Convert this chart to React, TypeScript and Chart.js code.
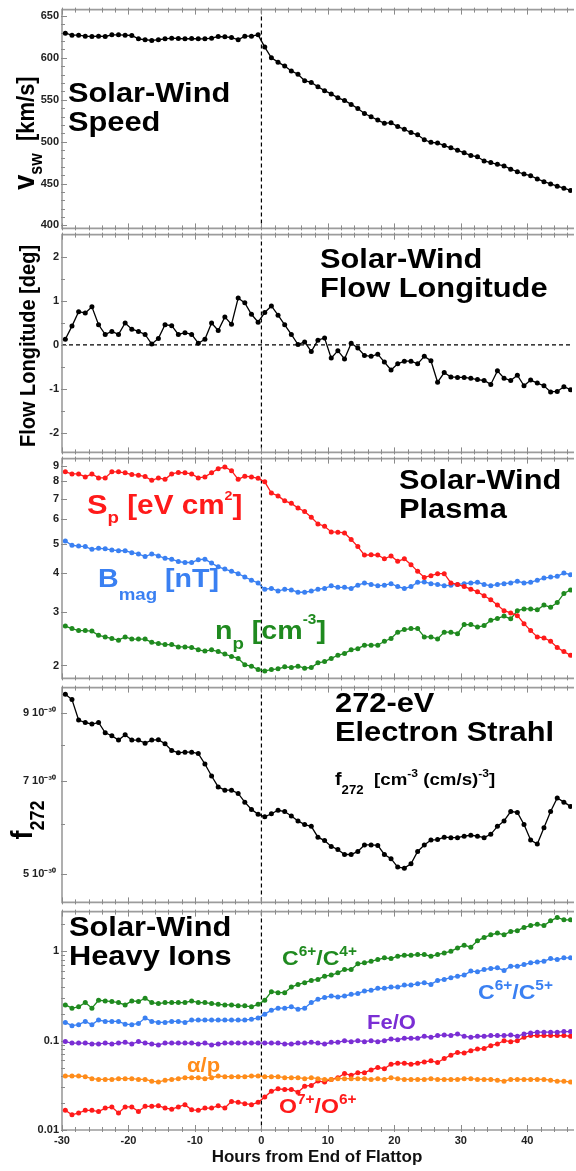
import React, { useEffect, useRef } from "react";
import { Chart, registerables } from "chart.js";
Chart.register(...registerables);

const FONT = "'Liberation Sans', Arial, Helvetica, sans-serif";
Chart.defaults.font.family = FONT;

// ---------- DATA ----------
const hours = [
  -29.5, -28.5, -27.5, -26.5, -25.5, -24.5, -23.5, -22.5, -21.5, -20.5,
  -19.5, -18.5, -17.5, -16.5, -15.5, -14.5, -13.5, -12.5, -11.5, -10.5,
  -9.5, -8.5, -7.5, -6.5, -5.5, -4.5, -3.5, -2.5, -1.5, -0.5,
  0.5, 1.5, 2.5, 3.5, 4.5, 5.5, 6.5, 7.5, 8.5, 9.5,
  10.5, 11.5, 12.5, 13.5, 14.5, 15.5, 16.5, 17.5, 18.5, 19.5,
  20.5, 21.5, 22.5, 23.5, 24.5, 25.5, 26.5, 27.5, 28.5, 29.5,
  30.5, 31.5, 32.5, 33.5, 34.5, 35.5, 36.5, 37.5, 38.5, 39.5,
  40.5, 41.5, 42.5, 43.5, 44.5, 45.5, 46.5,
];

const vsw = [
  629.4, 627.1, 627.1, 625.9, 625.5, 625.9, 625.5, 627.5, 627.5, 627.1,
  626.7, 622.7, 621.6, 620.8, 621.6, 622.7, 623.5, 623.1, 622.7, 623.1,
  622.7, 622.7, 623.5, 625.5, 625.1, 624.3, 621.6, 625.9, 625.9, 627.5,
  612.9, 600, 594.9, 590.2, 584.4, 580.5, 572.7, 570.7, 565.6, 560.9,
  557, 552.3, 549.2, 544.5, 539.5, 533.6, 529.7, 525.8, 521.9, 522.7,
  518, 514.8, 510.9, 508.2, 502.3, 499.2, 498.4, 495.3, 492.6, 489.8,
  486.7, 483.6, 482, 477, 475, 473, 471.1, 467.2, 464.1, 461.3,
  459.4, 455.5, 452.3, 449.6, 446.9, 444.5, 441.8,
];

const flowLon = [
  0.13, 0.43, 0.76, 0.73, 0.87, 0.46, 0.24, 0.31, 0.24, 0.5,
  0.36, 0.31, 0.24, 0.02, 0.15, 0.46, 0.44, 0.24, 0.28, 0.24,
  0.04, 0.13, 0.5, 0.33, 0.64, 0.47, 1.07, 0.96, 0.7, 0.52,
  0.74, 0.89, 0.68, 0.46, 0.24, 0.01, 0.07, -0.15, 0.11, 0.16,
  -0.3, -0.13, -0.32, 0.04, -0.07, -0.24, -0.26, -0.21, -0.39, -0.57,
  -0.43, -0.37, -0.37, -0.43, -0.26, -0.36, -0.85, -0.63, -0.73, -0.74,
  -0.74, -0.76, -0.79, -0.81, -0.9, -0.59, -0.76, -0.81, -0.69, -0.93,
  -0.8, -0.87, -0.93, -1.07, -1.06, -0.95, -1.02,
];

const spEntropy = [
  8.58, 8.45, 8.45, 8.26, 8.45, 8.2, 8.2, 8.58, 8.58, 8.52,
  8.41, 8.37, 8.28, 8.05, 8.2, 8.11, 8.45, 8.54, 8.52, 8.45,
  8.2, 8.26, 8.52, 8.79, 8.9, 8.66, 8.11, 8.3, 8.26, 8.17,
  7.96, 7.32, 7.16, 6.9, 6.77, 6.54, 6.37, 6.1, 5.8, 5.7,
  5.46, 5.45, 5.42, 5.16, 4.89, 4.59, 4.6, 4.59, 4.46, 4.56,
  4.38, 4.46, 4.27, 4.06, 3.88, 3.93, 3.99, 3.99, 3.72, 3.68,
  3.62, 3.55, 3.48, 3.38, 3.28, 3.15, 3.02, 2.97, 2.91, 2.74,
  2.6, 2.48, 2.46, 2.4, 2.29, 2.22, 2.16,
];

const bmag = [
  5.1, 4.94, 4.91, 4.89, 4.79, 4.83, 4.81, 4.77, 4.74, 4.74,
  4.67, 4.63, 4.54, 4.63, 4.56, 4.48, 4.45, 4.37, 4.34, 4.34,
  4.43, 4.45, 4.32, 4.2, 4.13, 4.06, 3.99, 3.89, 3.8, 3.72,
  3.55, 3.57, 3.5, 3.55, 3.53, 3.47, 3.47, 3.5, 3.55, 3.57,
  3.64, 3.6, 3.6, 3.57, 3.66, 3.72, 3.68, 3.64, 3.66, 3.7,
  3.62, 3.57, 3.62, 3.74, 3.75, 3.7, 3.68, 3.64, 3.66, 3.68,
  3.7, 3.72, 3.74, 3.68, 3.64, 3.68, 3.7, 3.72, 3.77, 3.72,
  3.74, 3.8, 3.86, 3.89, 3.91, 4.01, 3.96,
];

const np = [
  2.69, 2.64, 2.6, 2.6, 2.59, 2.51, 2.48, 2.45, 2.42, 2.48,
  2.44, 2.44, 2.44, 2.38, 2.36, 2.34, 2.34, 2.3, 2.3, 2.29,
  2.25, 2.23, 2.25, 2.22, 2.18, 2.14, 2.11, 2.01, 1.99, 1.94,
  1.92, 1.94, 1.95, 1.98, 1.97, 1.99, 1.96, 1.97, 2.04, 2.06,
  2.11, 2.16, 2.19, 2.25, 2.27, 2.33, 2.33, 2.33, 2.4, 2.45,
  2.57, 2.62, 2.64, 2.64, 2.48, 2.48, 2.44, 2.57, 2.57, 2.54,
  2.72, 2.72, 2.67, 2.7, 2.81, 2.85, 2.9, 2.84, 3.02, 3.06,
  3.06, 3.04, 3.15, 3.1, 3.21, 3.44, 3.53,
];

// f272 in units of 1e-30
const f272 = [
  9.62, 9.44, 8.76, 8.68, 8.63, 8.68, 8.36, 8.27, 8.14, 8.3,
  8.14, 8.14, 8.05, 8.14, 8.15, 8.03, 7.84, 7.77, 7.79, 7.79,
  7.75, 7.46, 7.14, 6.86, 6.78, 6.78, 6.7, 6.49, 6.32, 6.21,
  6.15, 6.22, 6.3, 6.27, 6.17, 6.06, 5.98, 5.94, 5.71, 5.64,
  5.52, 5.46, 5.36, 5.36, 5.42, 5.55, 5.55, 5.54, 5.36, 5.28,
  5.12, 5.1, 5.18, 5.42, 5.55, 5.65, 5.66, 5.71, 5.7, 5.7,
  5.73, 5.75, 5.73, 5.7, 5.77, 5.94, 6.06, 6.27, 6.25, 5.98,
  5.65, 5.57, 5.91, 6.27, 6.59, 6.49, 6.39,
];

const c6c4 = [
  0.251, 0.231, 0.239, 0.267, 0.231, 0.283, 0.278, 0.274, 0.267, 0.251,
  0.278, 0.274, 0.298, 0.267, 0.26, 0.267, 0.267, 0.267, 0.267, 0.278,
  0.267, 0.267, 0.26, 0.255, 0.251, 0.251, 0.245, 0.245, 0.239, 0.255,
  0.283, 0.353, 0.344, 0.344, 0.398, 0.426, 0.445, 0.472, 0.484, 0.527,
  0.541, 0.574, 0.625, 0.625, 0.723, 0.742, 0.774, 0.808, 0.844, 0.829,
  0.88, 0.903, 0.903, 0.918, 0.918, 0.88, 0.918, 0.958, 1.0, 1.09,
  1.17, 1.11, 1.31, 1.43, 1.53, 1.6, 1.53, 1.67, 1.7, 1.85,
  1.94, 2.01, 1.94, 2.19, 2.39, 2.25, 2.25,
];

const c6c5 = [
  0.16, 0.147, 0.151, 0.164, 0.151, 0.17, 0.164, 0.164, 0.164, 0.153,
  0.151, 0.156, 0.179, 0.164, 0.16, 0.16, 0.164, 0.164, 0.16, 0.17,
  0.17, 0.17, 0.17, 0.17, 0.17, 0.17, 0.17, 0.17, 0.174, 0.179,
  0.198, 0.219, 0.231, 0.231, 0.239, 0.225, 0.231, 0.267, 0.29, 0.303,
  0.316, 0.308, 0.316, 0.33, 0.336, 0.36, 0.366, 0.385, 0.385, 0.398,
  0.398, 0.419, 0.419, 0.434, 0.445, 0.426, 0.472, 0.484, 0.506, 0.527,
  0.541, 0.6, 0.589, 0.625, 0.642, 0.653, 0.61, 0.681, 0.681, 0.711,
  0.742, 0.761, 0.774, 0.829, 0.808, 0.844, 0.844,
];

const feO = [
  0.0975, 0.094, 0.094, 0.094, 0.092, 0.092, 0.094, 0.092, 0.094, 0.0957,
  0.092, 0.0975, 0.094, 0.092, 0.0895, 0.094, 0.094, 0.094, 0.094, 0.094,
  0.092, 0.094, 0.0895, 0.092, 0.094, 0.094, 0.094, 0.094, 0.094, 0.094,
  0.094, 0.094, 0.094, 0.092, 0.0917, 0.094, 0.094, 0.0957, 0.094, 0.0917,
  0.0957, 0.0957, 0.1, 0.0974, 0.1, 0.0974, 0.1, 0.0974, 0.1, 0.1044,
  0.1026, 0.1063, 0.1063, 0.1063, 0.112, 0.109, 0.1139, 0.1159, 0.1139, 0.119,
  0.112, 0.109, 0.112, 0.112, 0.1139, 0.1139, 0.1139, 0.1159, 0.112, 0.119,
  0.122, 0.1243, 0.1243, 0.1243, 0.1243, 0.1264, 0.1264,
];

const alphaP = [
  0.0402, 0.0402, 0.0402, 0.0395, 0.0375, 0.0368, 0.0368, 0.0368, 0.0375, 0.0375,
  0.0375, 0.0368, 0.0368, 0.0352, 0.0344, 0.0361, 0.0368, 0.0375, 0.0385, 0.0385,
  0.0385, 0.0375, 0.0385, 0.0402, 0.0395, 0.0395, 0.0395, 0.0395, 0.0402, 0.0402,
  0.0395, 0.0395, 0.0395, 0.0385, 0.0385, 0.0385, 0.0375, 0.0385, 0.0375, 0.0368,
  0.0368, 0.0375, 0.0375, 0.0375, 0.0375, 0.0375, 0.0368, 0.0375, 0.0368, 0.0385,
  0.0375, 0.0368, 0.0368, 0.0368, 0.0368, 0.0375, 0.0368, 0.0368, 0.0368, 0.0368,
  0.0375, 0.0375, 0.0368, 0.0368, 0.0368, 0.0361, 0.0352, 0.0368, 0.0368, 0.0368,
  0.0368, 0.0368, 0.0368, 0.0361, 0.0352, 0.0352, 0.0344,
];

const o7o6 = [
  0.0166, 0.0148, 0.0155, 0.0166, 0.0166, 0.0161, 0.0176, 0.0181, 0.0155, 0.0181,
  0.0181, 0.0161, 0.0184, 0.0184, 0.0187, 0.0176, 0.0171, 0.0181, 0.0192, 0.0168,
  0.0166, 0.0176, 0.0176, 0.0187, 0.0176, 0.0209, 0.0204, 0.0197, 0.0192, 0.0204,
  0.0234, 0.0272, 0.0289, 0.0284, 0.0284, 0.0265, 0.0309, 0.0315, 0.0353, 0.0344,
  0.0368, 0.0385, 0.043, 0.0409, 0.0438, 0.0438, 0.047, 0.05, 0.0486, 0.0544,
  0.0559, 0.0559, 0.0544, 0.0559, 0.0578, 0.0594, 0.0569, 0.0631, 0.0688, 0.0738,
  0.0725, 0.0771, 0.0805, 0.0819, 0.0878, 0.0917, 0.1, 0.0974, 0.1, 0.109,
  0.1139, 0.1139, 0.1139, 0.1139, 0.1139, 0.1139, 0.112,
];

const xTicks = [-30, -20, -10, 0, 10, 20, 30, 40];
const vswTicks = [400, 450, 500, 550, 600, 650];
const flowTicks = [-2, -1, 0, 1, 2];
const plasmaTicks = [2, 3, 4, 5, 6, 7, 8, 9];
const strahlTicks = [5, 7, 9];
const ionTicks = [0.01, 0.1, 1];

// ---------- STYLE ----------
const RED = "#ff1a1a";
const BLUE = "#3a80f2";
const GREEN = "#1f8a1f";
const PURPLE = "#7a2ed4";
const ORANGE = "#ff8c1a";
const BLACK = "#000000";

type Part = { t: string; s: number; dy?: number };
type Lab = { x: number; y: number; color: string; parts: Part[]; rotate?: boolean; center?: boolean; sx?: number };

const W = 576;
const XMIN = -30;
const XMAX = 46.72;

function range(a: number, b: number, st: number) {
  const out: number[] = [];
  for (let v = a; v <= b + 1e-9; v += st) out.push(Math.round(v * 1000) / 1000);
  return out;
}

function logMinors(lo: number, hi: number) {
  const out: number[] = [];
  for (let d = lo; d <= hi; d *= 10) for (let k = 1; k < 10; k++) out.push(+(d * k).toPrecision(3));
  return out;
}

const title2 = (x: number, y1: number, a: string, b: string): Lab[] => [
  { x, y: y1, color: BLACK, parts: [{ t: a, s: 28 }] },
  { x, y: y1 + 29, color: BLACK, parts: [{ t: b, s: 28 }] },
];

const panels: any[] = [
  {
    top: 8, bottom: 230, canvasTop: 0, log: false, min: 396.5, max: 657.6, ticks: vswTicks,
    minor: range(400, 650, 10), fmt: (v: number) => String(v), zeroY: false,
    series: [{ values: vsw, color: BLACK }],
    labels: [
      ...title2(68, 102, "Solar-Wind", "Speed"),
      { x: 34, y: 133, color: BLACK, rotate: true, center: true, parts: [{ t: "v", s: 27 }, { t: "sw", s: 16, dy: 7 }, { t: "  [km/s]", s: 22 }] },
    ],
  },
  {
    top: 233, bottom: 454, canvasTop: 225, log: false, min: -2.45, max: 2.517, ticks: flowTicks,
    minor: range(-2, 2, 0.5), fmt: (v: number) => String(v), zeroY: true,
    series: [{ values: flowLon, color: BLACK }],
    labels: [
      ...title2(320, 268, "Solar-Wind", "Flow Longitude"),
      { x: 35, y: 346, color: BLACK, rotate: true, center: true, parts: [{ t: "Flow Longitude [deg]", s: 20 }] },
    ],
  },
  {
    top: 457, bottom: 680, canvasTop: 449, log: true, min: 1.815, max: 9.48, ticks: plasmaTicks,
    minor: plasmaTicks, fmt: (v: number) => String(v), zeroY: false,
    series: [
      { values: spEntropy, color: RED },
      { values: bmag, color: BLUE },
      { values: np, color: GREEN },
    ],
    labels: [
      ...title2(399, 489, "Solar-Wind", "Plasma"),
      { x: 87, y: 514, color: RED, parts: [{ t: "S", s: 28 }, { t: "p", s: 17, dy: 9 }, { t: " [eV cm", s: 27 }, { t: "2", s: 13, dy: -14 }, { t: "]", s: 27 }] },
      { x: 98, y: 587, color: BLUE, parts: [{ t: "B", s: 26 }, { t: "mag", s: 17, dy: 13 }, { t: " [nT]", s: 26 }] },
      { x: 215, y: 639, color: GREEN, parts: [{ t: "n", s: 26 }, { t: "p", s: 17, dy: 10 }, { t: " [cm", s: 26 }, { t: "-3", s: 14, dy: -15 }, { t: "]", s: 26 }] },
    ],
  },
  {
    top: 683, bottom: 907, canvasTop: 675, log: true, min: 4.5, max: 9.86, ticks: strahlTicks,
    minor: [5, 6, 7, 8, 9], fmt: (v: number) => `${v} 10\u207B\u00B3\u2070`, tickPad: 6, zeroY: false,
    series: [{ values: f272, color: BLACK }],
    labels: [
      ...title2(335, 712, "272-eV", "Electron Strahl"),
      { x: 335, y: 785, color: BLACK, parts: [{ t: "f", s: 18 }, { t: "272", s: 12, dy: 9 }, { t: "  [cm", s: 17 }, { t: "-3", s: 11, dy: -8 }, { t: " (cm/s)", s: 17 }, { t: "-3", s: 11, dy: -8 }, { t: "]", s: 17 }] },
      { x: 32, y: 820, color: BLACK, rotate: true, center: true, parts: [{ t: "f", s: 27 }, { t: "272", s: 18, dy: 11 }] },
    ],
  },
  {
    top: 910, bottom: 1130, canvasTop: 902, log: true, min: 0.01, max: 2.78, ticks: ionTicks,
    minor: logMinors(0.01, 1), fmt: (v: number) => String(v), zeroY: false, showX: true,
    series: [
      { values: c6c4, color: GREEN },
      { values: c6c5, color: BLUE },
      { values: feO, color: PURPLE },
      { values: alphaP, color: ORANGE },
      { values: o7o6, color: RED },
    ],
    labels: [
      ...title2(69, 936, "Solar-Wind", "Heavy Ions"),
      { x: 282, y: 965, color: GREEN, parts: [{ t: "C", s: 21 }, { t: "6+", s: 14, dy: -9 }, { t: "/C", s: 21 }, { t: "4+", s: 14, dy: -9 }] },
      { x: 478, y: 999, color: BLUE, parts: [{ t: "C", s: 21 }, { t: "6+", s: 14, dy: -9 }, { t: "/C", s: 21 }, { t: "5+", s: 14, dy: -9 }] },
      { x: 367, y: 1029, color: PURPLE, parts: [{ t: "Fe/O", s: 20 }] },
      { x: 187, y: 1072, color: ORANGE, parts: [{ t: "\u03B1/p", s: 20 }] },
      { x: 279, y: 1113, color: RED, parts: [{ t: "O", s: 21 }, { t: "7+", s: 14, dy: -9 }, { t: "/O", s: 21 }, { t: "6+", s: 14, dy: -9 }] },
    ],
  },
];

function drawRich(ctx: CanvasRenderingContext2D, lab: Lab, offY: number) {
  ctx.save();
  ctx.fillStyle = lab.color;
  ctx.textBaseline = "alphabetic";
  ctx.textAlign = "left";
  const widths = lab.parts.map((p) => {
    ctx.font = `bold ${p.s}px ${FONT}`;
    return ctx.measureText(p.t).width;
  });
  const total = widths.reduce((a, b) => a + b, 0);
  ctx.translate(lab.x, lab.y - offY);
  ctx.scale(lab.sx ?? 1.1, 1);
  if (lab.rotate) ctx.rotate(-Math.PI / 2);
  let cx = lab.center ? -total / 2 : 0;
  lab.parts.forEach((p, i) => {
    ctx.font = `bold ${p.s}px ${FONT}`;
    ctx.fillText(p.t, cx, p.dy || 0);
    cx += widths[i];
  });
  ctx.restore();
}

function makePlugin(cfg: any) {
  return {
    id: "frameDeco",
    beforeDatasetsDraw(chart: any) {
      const { ctx, chartArea: ca, scales } = chart;
      const xs = scales.x;
      const ys = scales.y;
      ctx.save();
      // dashed reference lines
      ctx.strokeStyle = "#000";
      ctx.lineWidth = 1.2;
      ctx.setLineDash([4, 3]);
      const x0 = xs.getPixelForValue(0);
      ctx.beginPath();
      ctx.moveTo(x0, ca.top);
      ctx.lineTo(x0, ca.bottom);
      ctx.stroke();
      if (cfg.zeroY) {
        const y0 = ys.getPixelForValue(0);
        ctx.beginPath();
        ctx.moveTo(ca.left, y0);
        ctx.lineTo(ca.right, y0);
        ctx.stroke();
      }
      ctx.setLineDash([]);
      // frame
      ctx.strokeStyle = "#9c9c9c";
      ctx.lineWidth = 1.6;
      ctx.beginPath();
      ctx.moveTo(ca.right + 2, ca.top);
      ctx.lineTo(ca.left, ca.top);
      ctx.lineTo(ca.left, ca.bottom);
      ctx.lineTo(ca.right + 2, ca.bottom);
      ctx.stroke();
      // x tick marks
      ctx.lineWidth = 1;
      ctx.strokeStyle = "#8a8a8a";
      for (let h = -30; h <= 46; h += 2) {
        const px = Math.round(xs.getPixelForValue(h)) + 0.5;
        const len = h % 10 === 0 ? 5 : 3;
        ctx.beginPath();
        ctx.moveTo(px, ca.top - 2);
        ctx.lineTo(px, ca.top + len);
        ctx.moveTo(px, ca.bottom + 2);
        ctx.lineTo(px, ca.bottom - len);
        ctx.stroke();
      }
      // y tick marks
      const majors = new Set(cfg.ticks);
      for (const v of cfg.minor) {
        if (v < ys.min || v > ys.max) continue;
        const py = Math.round(ys.getPixelForValue(v)) + 0.5;
        const len = majors.has(v) ? 5 : 3;
        ctx.beginPath();
        ctx.moveTo(ca.left - 1, py);
        ctx.lineTo(ca.left + len, py);
        ctx.stroke();
      }
      ctx.restore();
    },
    afterDatasetsDraw(chart: any) {
      const { ctx } = chart;
      for (const lab of cfg.labels) drawRich(ctx, lab, cfg.canvasTop);
    },
  };
}

function canvasHeight(p: any) {
  return p.showX ? 1171 - p.canvasTop : p.bottom - p.canvasTop + 8;
}

function buildChart(canvas: HTMLCanvasElement, p: any) {
  const padTop = p.top - p.canvasTop;
  const padBot = p.showX ? 0 : 8;
  return new Chart(canvas, {
    type: "line",
    data: {
      datasets: p.series.map((s: any) => ({
        data: hours.map((h, i) => ({ x: h, y: s.values[i] })),
        borderColor: s.color,
        backgroundColor: s.color,
        pointBackgroundColor: s.color,
        pointBorderColor: s.color,
        pointBorderWidth: 0,
        pointRadius: 2.5,
        borderWidth: 1.3,
        tension: 0,
        fill: false,
      })),
    },
    options: {
      animation: false,
      responsive: false,
      maintainAspectRatio: false,
      devicePixelRatio: 1,
      events: [],
      layout: { padding: { top: padTop, bottom: padBot, left: 0, right: 0 } },
      plugins: { legend: { display: false }, tooltip: { enabled: false }, title: { display: false } },
      scales: {
        x: {
          type: "linear",
          min: XMIN,
          max: XMAX,
          display: !!p.showX,
          afterBuildTicks: (s: any) => {
            s.ticks = xTicks.map((v) => ({ value: v }));
          },
          afterFit: (s: any) => {
            if (p.showX) s.height = 1171 - p.bottom;
          },
          grid: { display: false, drawTicks: false },
          border: { display: false },
          ticks: {
            autoSkip: false,
            maxRotation: 0,
            padding: 4,
            color: "#222",
            font: { size: 11, weight: "bold", family: FONT },
            callback: (v: any) => String(v),
          },
          title: {
            display: true,
            text: "Hours from End of Flattop",
            color: "#111",
            font: { size: 17, weight: "bold", family: FONT },
            padding: { top: 0, bottom: 3 },
          },
        },
        y: {
          type: p.log ? "logarithmic" : "linear",
          min: p.min,
          max: p.max,
          afterBuildTicks: (s: any) => {
            s.ticks = p.ticks.map((v: number) => ({ value: v }));
          },
          afterFit: (s: any) => {
            s.width = 62;
          },
          grid: { display: false, drawTicks: false },
          border: { display: false },
          ticks: {
            autoSkip: false,
            padding: p.tickPad ?? 3,
            color: "#222",
            font: { size: 11, weight: "bold", family: FONT },
            callback: (v: any) => p.fmt(Number(v)),
          },
        },
      },
    } as any,
    plugins: [makePlugin(p)],
  });
}

export default function App() {
  const refs = useRef<(HTMLCanvasElement | null)[]>([]);
  useEffect(() => {
    const charts = panels.map((p, i) => buildChart(refs.current[i] as HTMLCanvasElement, p));
    return () => charts.forEach((c) => c.destroy());
  }, []);
  return (
    <div style={{ position: "absolute", left: 0, top: 0, width: W, height: 1171, background: "#fff", overflow: "hidden" }}>
      {panels.map((p, i) => {
        const h = canvasHeight(p);
        return (
          <canvas
            key={i}
            ref={(el) => {
              refs.current[i] = el;
            }}
            width={W}
            height={h}
            style={{ position: "absolute", left: 0, top: p.canvasTop, width: W, height: h }}
          />
        );
      })}
    </div>
  );
}
